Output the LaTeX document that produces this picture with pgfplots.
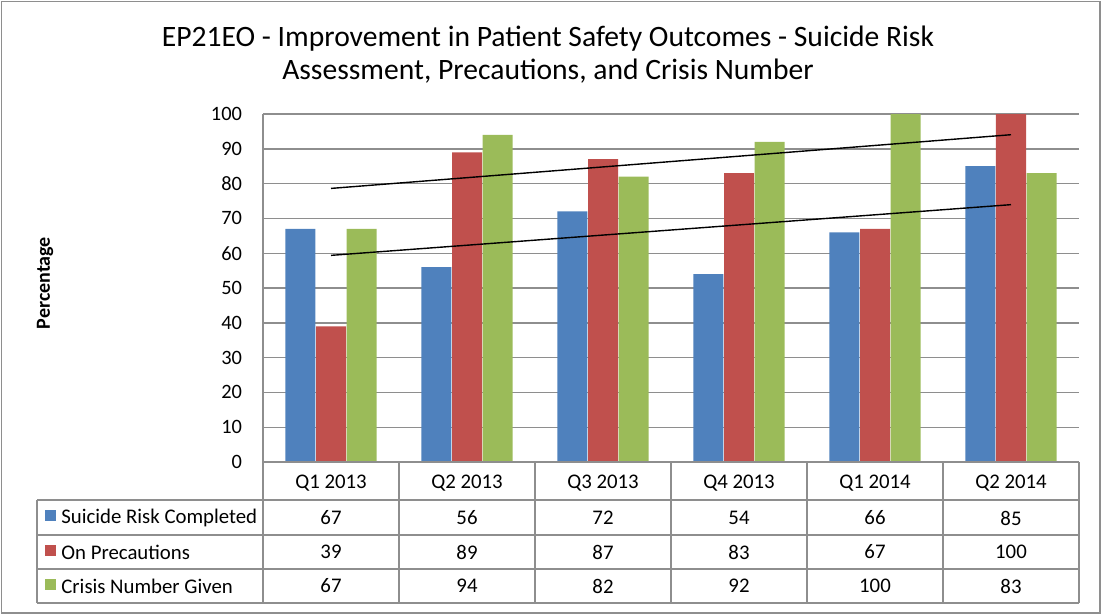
\documentclass[border=0pt]{standalone}
\usepackage{pgfplots}
\pgfplotsset{compat=1.18}
\usepackage{pgfplotstable}
\usepackage{fontspec}
\setmainfont{Carlito}
\definecolor{sblue}{HTML}{4F81BD}
\definecolor{sred}{HTML}{C0504D}
\definecolor{sgreen}{HTML}{9BBB59}
\definecolor{gline}{HTML}{8E8E8E}
\pgfplotstableread{
x risk prec crisis
1 67 39 67
2 56 89 94
3 72 87 82
4 54 83 92
5 66 67 100
6 85 100 83
}\datatable
\begin{document}
\begin{tikzpicture}
\begin{scope}[x=0.5pt,y=-0.5pt]
\path (0,0) rectangle (1104,616);
\draw[gline, line width=0.9pt] (1.5,1.5) rectangle (1100,613);
\node[font=\fontsize{14.8}{16.6}\selectfont, align=center] at (548,55) {EP21EO - Improvement in Patient Safety Outcomes - Suicide Risk\\Assessment, Precautions, and Crisis Number};
\node[rotate=90, font=\fontsize{10}{12}\selectfont\bfseries] at (45,283) {Percentage};
\end{scope}
\begin{axis}[at={(131.5pt,-231pt)}, anchor=south west, scale only axis,
  width=408pt, height=174pt, xmin=0.5, xmax=6.5, ymin=0, ymax=100,
  ytick={0,10,...,100}, xtick=\empty, ymajorgrids,
  grid style={gline, line width=0.7pt},
  axis lines*=left, axis line style={gline, line width=0.7pt},
  major tick length=0pt,
  yticklabel style={font=\fontsize{10.2}{12}\selectfont, xshift=-7pt},
  /pgf/number format/assume math mode=true,
  clip=false]
\addplot[ybar, bar width=15pt, bar shift=-15.3pt, fill=sblue, draw=none] table[x=x,y=risk] {\datatable};
\addplot[ybar, bar width=15pt, bar shift=0pt, fill=sred, draw=none] table[x=x,y=prec] {\datatable};
\addplot[ybar, bar width=15pt, bar shift=15.3pt, fill=sgreen, draw=none] table[x=x,y=crisis] {\datatable};
\addplot[black, line width=0.7pt, sharp plot, mark=none] coordinates {(1,59.38) (6,73.95)};
\addplot[black, line width=0.7pt, sharp plot, mark=none] coordinates {(1,78.62) (6,94.05)};
\end{axis}
\begin{scope}[x=0.5pt,y=-0.5pt, gline, line width=0.8pt]
\draw (263,462) -- (1079,462);
\foreach \yy in {500,535,569,603} \draw (37,\yy) -- (1079,\yy);
\foreach \xx in {263,399,535,671,807,943,1079} \draw (\xx,462) -- (\xx,603);
\draw (37,500) -- (37,603);
\end{scope}
\begin{scope}[x=0.5pt,y=-0.5pt, font=\fontsize{10.4}{12}\selectfont]
\node at (331,483) {Q1 2013};
\node at (467,483) {Q2 2013};
\node at (603,483) {Q3 2013};
\node at (739,483) {Q4 2013};
\node at (875,483) {Q1 2014};
\node at (1011,483) {Q2 2014};
\fill[sblue] (45,510) rectangle (56,521);
\fill[sred] (45,545) rectangle (56,556);
\fill[sgreen] (45,579) rectangle (56,590);
\node[anchor=west, inner sep=0pt] at (61,518) {Suicide Risk Completed};
\node[anchor=west, inner sep=0pt] at (61,552) {On Precautions};
\node[anchor=west, inner sep=0pt] at (61,586) {Crisis Number Given};
\foreach \v [count=\i from 0] in {67,56,72,54,66,85} \node at (331+136*\i,518) {\v};
\foreach \v [count=\i from 0] in {39,89,87,83,67,100} \node at (331+136*\i,552) {\v};
\foreach \v [count=\i from 0] in {67,94,82,92,100,83} \node at (331+136*\i,586) {\v};
\end{scope}
\end{tikzpicture}
\end{document}
